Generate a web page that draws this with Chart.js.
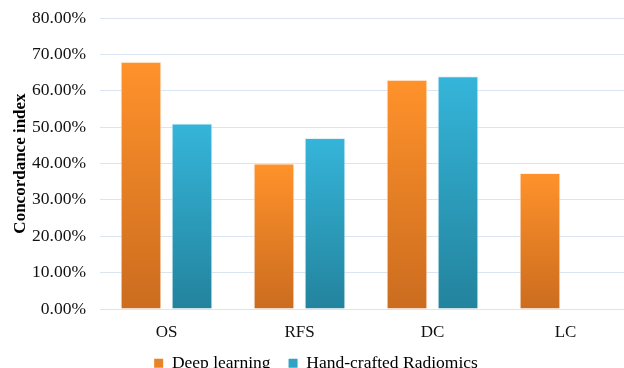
<!DOCTYPE html>
<html>
<head>
<meta charset="utf-8">
<script src="https://cdn.jsdelivr.net/npm/chart.js@4/dist/chart.umd.min.js"></script>
<style>
  html, body { margin: 0; padding: 0; background: #fff; overflow: hidden; }
  #wrap { width: 640px; height: 382px; }
</style>
</head>
<body>
<div id="wrap"><canvas id="c" width="640" height="382"></canvas></div>
<script>
// Concordance index (%) per endpoint
const categories = ['OS', 'RFS', 'DC', 'LC'];
const deepLearning = [68, 40, 63, 37.4];
const handCrafted = [51, 47, 64, null];
const yTicks = [0, 10, 20, 30, 40, 50, 60, 70, 80];

const serif = '"Liberation Serif", "Times New Roman", serif';

// vertical shading per bar: light at the top, darker at the base
function barGradient(top, bottom) {
  return function (ctx) {
    const chart = ctx.chart;
    const area = chart.chartArea;
    const v = ctx.raw;
    if (!area || v == null) return top;
    const ys = chart.scales.y;
    const yTop = ys.getPixelForValue(v);
    const yBot = ys.getPixelForValue(0);
    if (!(yBot > yTop)) return top;
    const g = chart.ctx.createLinearGradient(0, yTop, 0, yBot);
    g.addColorStop(0, top);
    g.addColorStop(1, bottom);
    return g;
  };
}

new Chart(document.getElementById('c'), {
  type: 'bar',
  data: {
    labels: categories,
    datasets: [
      {
        label: 'Deep learning',
        data: deepLearning,
        backgroundColor: barGradient('#FF922B', '#CB6C1F'),
        borderColor: 'rgba(255,235,215,0.7)',
        borderWidth: 1,
        legendColor: '#E8832A'
      },
      {
        label: 'Hand-crafted Radiomics',
        data: handCrafted,
        backgroundColor: barGradient('#35B5DA', '#23839D'),
        borderColor: 'rgba(215,240,250,0.7)',
        borderWidth: 1,
        legendColor: '#2EA3C4'
      }
    ]
  },
  options: {
    responsive: false,
    animation: false,
    layout: { padding: { top: 18, right: 8, bottom: 0, left: 0 } },
    datasets: {
      bar: { categoryPercentage: 0.767, barPercentage: 0.8 }
    },
    scales: {
      x: {
        grid: { display: false },
        border: { display: false },
        ticks: {
          color: '#111',
          padding: 5,
          font: { family: serif, size: 17 }
        },
        afterFit: (s) => {
          s.height = 27.5;
          // labels hang below the compact axis box, so don't clip them to it
          s._computeLabelArea = () => undefined;
        }
      },
      y: {
        min: 0,
        max: 80,
        afterBuildTicks: (s) => { s.ticks = yTicks.map(v => ({ value: v })); },
        grid: { color: '#DAE5F2', lineWidth: 1, drawTicks: false },
        border: { display: false },
        ticks: {
          color: '#111',
          padding: 14,
          font: { family: serif, size: 17.5 },
          callback: (v) => v.toFixed(2) + '%'
        },
        title: {
          display: true,
          text: 'Concordance index',
          color: '#000',
          padding: { top: 10, bottom: 0 },
          font: { family: serif, size: 17, weight: 'bold' }
        },
        afterFit: (s) => {
          s.width = 100;
          // the layout padding alone sets the plot's top edge
          s.paddingTop = 0;
          s.paddingBottom = 0;
        }
      }
    },
    plugins: {
      tooltip: { enabled: false },
      legend: {
        position: 'bottom',
        labels: {
          color: '#000',
          boxWidth: 9,
          boxHeight: 9,
          padding: 18,
          font: { family: serif, size: 17.5 },
          generateLabels: (chart) => chart.data.datasets.map((d, i) => ({
            text: d.label,
            fillStyle: d.legendColor,
            strokeStyle: d.legendColor,
            lineWidth: 0,
            datasetIndex: i,
            hidden: false,
            fontColor: '#000'
          }))
        }
      }
    }
  }
});
</script>
</body>
</html>
